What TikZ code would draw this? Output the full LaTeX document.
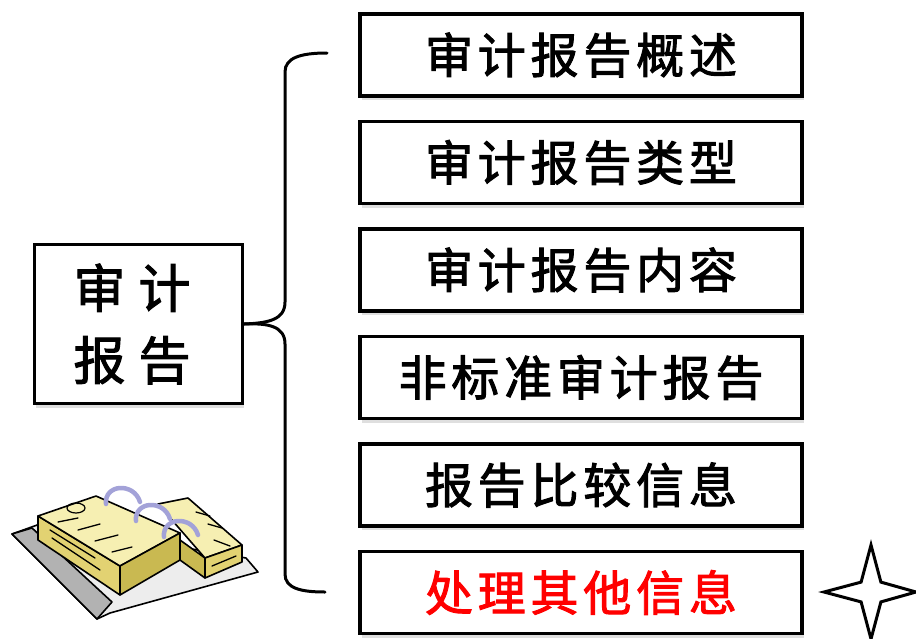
\documentclass[tikz,border=0pt]{standalone}
\usepackage{fontspec}
\newfontfamily\kuangzi[LetterSpace=10,FakeBold=2]{Noto Sans CJK SC}
\newfontfamily\zhuti[LetterSpace=25,FakeBold=2]{Noto Sans CJK SC}
\usetikzlibrary{positioning, shadows}
\definecolor{paper}{HTML}{F6EFB2}
\definecolor{pageside}{HTML}{E2D272}
\definecolor{pagedark}{HTML}{C9B951}
\definecolor{ring}{HTML}{A3A2D8}
\definecolor{board}{HTML}{EDEDED}

\begin{document}
\begin{tikzpicture}[
        x=1pt, y=-1pt,
        node distance=22pt,
        kuang/.style={
            rectangle,
            draw=black,
            line width=3.5pt,
            fill=white,
            minimum width=442pt,
            minimum height=82pt,
            inner sep=0pt,
            drop shadow={shadow xshift=1.5pt, shadow yshift=-4pt, opacity=0.25},
            font=\kuangzi\fontsize{48}{56}\selectfont
        },
        zhukuang/.style={
            kuang,
            minimum width=208pt,
            minimum height=159pt,
            align=center,
            font=\zhuti\fontsize{52}{72}\selectfont
        },
        kuohao/.style={
            line width=3pt,
            line cap=round
        },
        bookline/.style={
            draw=black,
            line width=1.6pt,
            line join=round
        },
        huan/.style={
            draw=ring,
            line width=4.5pt,
            line cap=round
        }
    ]

    \useasboundingbox (0,0) rectangle (916,638);

    \node[zhukuang] (baogao) at (138.5,324) {审计\kern13pt\\报告\kern13pt};

    \node[kuang] (gaishu) at (581,55) {审计报告概述};
    \node[kuang, below=of gaishu] (leixing) {审计报告类型};
    \node[kuang, below=of leixing] (neirong) {审计报告内容};
    \node[kuang, below=of neirong] (feibiaozhun) {非标准审计报告};
    \node[kuang, below=of feibiaozhun] (bijiao) {报告比较信息};
    \node[kuang, below=of bijiao, text=red] (qita) {处理其他信息};

    % brace
    \coordinate (kuohaoshang) at (327,53);
    \coordinate (kuohaoxia) at (325,592);
    \draw[kuohao] (baogao.east) .. controls (268,323) and (285,320) .. (285,302)
        -- (285,72) .. controls (285,58) and (300,53) .. (kuohaoshang);
    \draw[kuohao] (baogao.east) .. controls (268,323) and (285,326) .. (285,344)
        -- (285,574) .. controls (285,588) and (300,592) .. (kuohaoxia);

    % star
    \draw[line width=3pt, miter limit=20] (871,592) +(0:45) -- +(45:14) -- +(90:47)
        -- +(135:14) -- +(180:47) -- +(225:14) -- +(270:47) -- +(315:14) -- cycle;

    % book
    \filldraw[bookline, fill=board] (12,534) -- (40,524) -- (246,558) -- (258,572)
        -- (110,613) -- (97,619) -- cycle;
    \filldraw[bookline, fill=gray!60] (12,534) -- (32,528) -- (112,602) -- (97,619) -- cycle;
    \filldraw[bookline, fill=pageside] (38,516) -- (120,566) -- (120,595) -- (38,540) -- cycle;
    \filldraw[bookline, fill=paper] (38,516) -- (96,496) -- (180,533) -- (120,566) -- cycle;
    \filldraw[bookline, fill=pagedark] (120,566) -- (180,533) -- (180,560) -- (120,595) -- cycle;
    \filldraw[bookline, fill=pagedark] (180,540) -- (205,558) -- (205,578) -- (180,560) -- cycle;
    \filldraw[bookline, fill=paper] (158,504) -- (188,498) -- (242,545) -- (205,558) -- cycle;
    \filldraw[bookline, fill=pageside] (205,558) -- (242,545) -- (242,562) -- (205,578) -- cycle;
    \draw[line width=1.2pt] (76,508) ellipse (9pt and 5pt);
    \foreach \a/\b in {{58,522}/{78,518}, {78,530}/{100,524}, {95,541}/{118,535},
                       {112,552}/{132,547}, {50,530}/{95,558}, {52,538}/{100,570}} {
        \draw[line width=1.3pt, line cap=round] (\a) -- (\b);
    }
    \foreach \a/\b in {{196,512}/{210,516}, {208,524}/{222,528}, {214,540}/{230,546},
                       {212,566}/{236,556}} {
        \draw[line width=1.3pt, line cap=round] (\a) -- (\b);
    }
    \foreach \dx/\dy in {0/0, 30/17, 58/33} {
        \draw[huan] (106+\dx,504+\dy) .. controls (104+\dx,484+\dy) and (134+\dx,482+\dy) .. (140+\dx,502+\dy);
    }

\end{tikzpicture}
\end{document}
